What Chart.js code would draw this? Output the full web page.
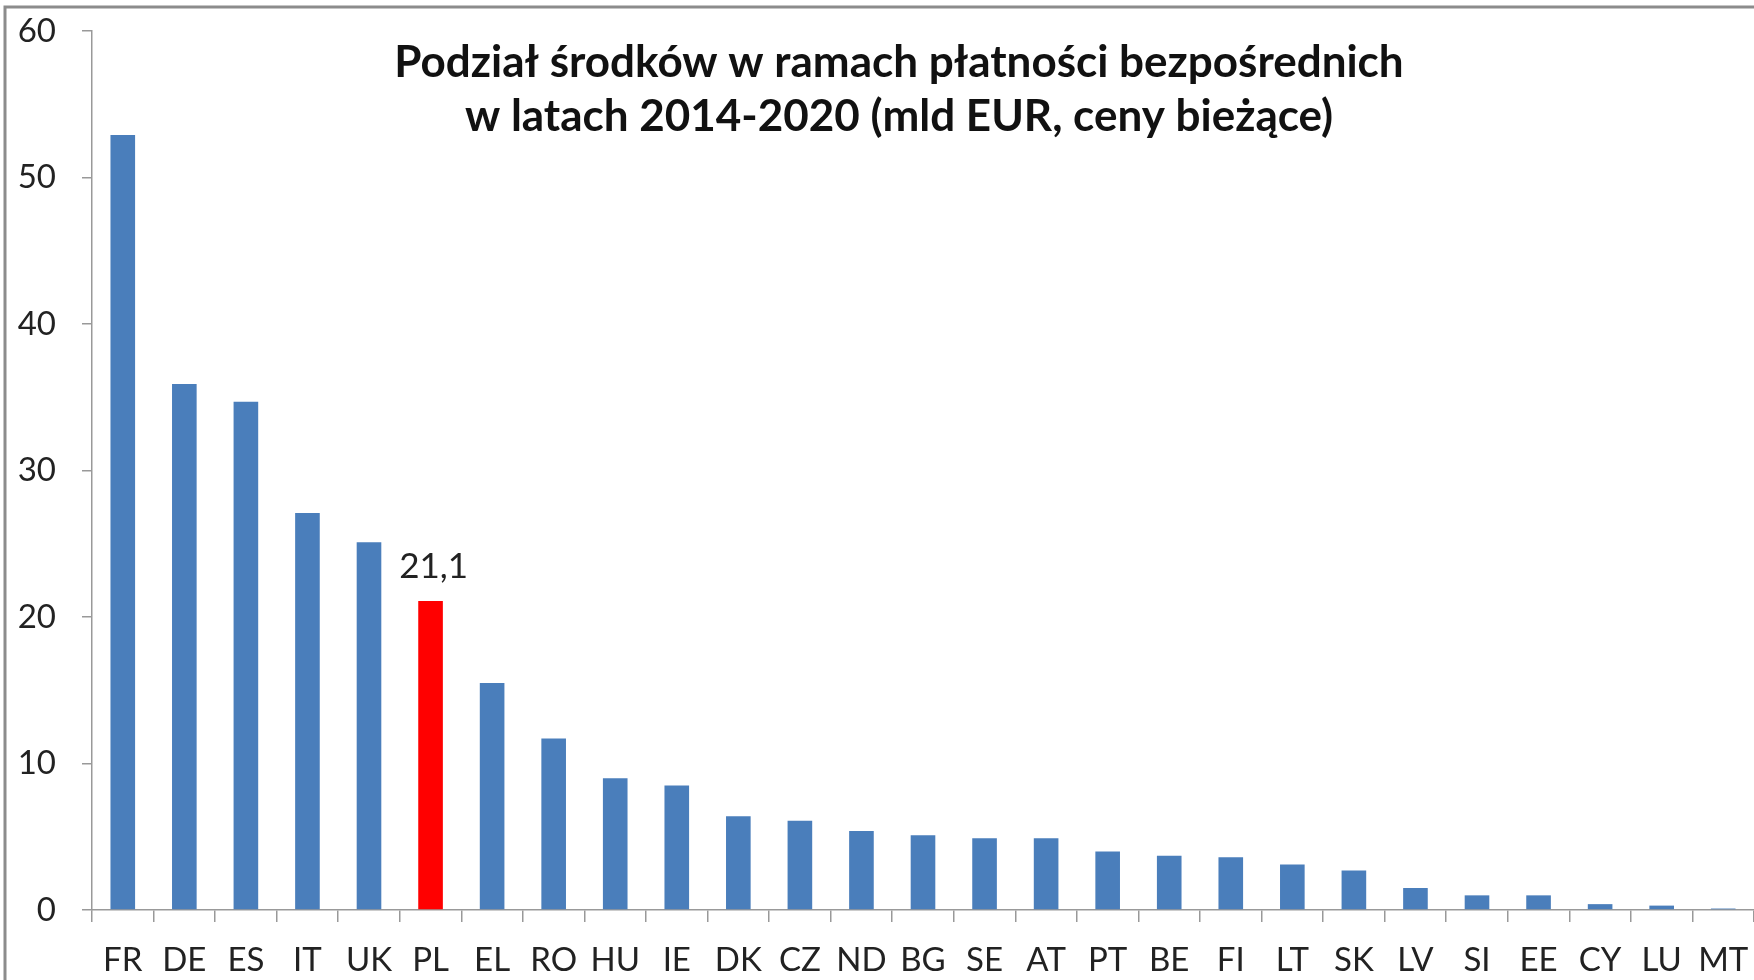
<!DOCTYPE html>
<html>
<head>
<meta charset="utf-8">
<script src="https://cdn.jsdelivr.net/npm/chart.js@4/dist/chart.umd.min.js"></script>
<style>
  html, body { margin: 0; padding: 0; background: #fff; }
  #wrap { position: relative; width: 1754px; height: 980px; }
</style>
</head>
<body>
<div id="wrap"><canvas id="c"></canvas></div>
<script>
// ---- data ----
const categories = ['FR','DE','ES','IT','UK','PL','EL','RO','HU','IE','DK','CZ','ND','BG','SE','AT','PT','BE','FI','LT','SK','LV','SI','EE','CY','LU','MT'];
const values = [52.9, 35.9, 34.7, 27.1, 25.1, 21.1, 15.5, 11.7, 9.0, 8.5, 6.4, 6.1, 5.4, 5.1, 4.9, 4.9, 4.0, 3.7, 3.6, 3.1, 2.7, 1.5, 1.0, 1.0, 0.4, 0.3, 0.1];
const highlightCategory = 'PL';
const highlightText = '21,1';
const titleLines = ['Podział środków w ramach płatności bezpośrednich', 'w latach 2014-2020 (mld EUR, ceny bieżące)'];
const yTicks = [0, 10, 20, 30, 40, 50, 60];

const BLUE = '#4a7ebb';
const RED = '#ff0000';
const FONT = 'Lato, "Open Sans", sans-serif';

const colors = categories.map(c => c === highlightCategory ? RED : BLUE);

const overlayPlugin = {
  id: 'overlay',
  beforeDraw(chart) {
    const ctx = chart.ctx;
    ctx.save();
    ctx.fillStyle = '#fff';
    ctx.fillRect(0, 0, chart.width, chart.height);
    // frame (top & left edges of the original chart box)
    ctx.strokeStyle = '#8c8c8c';
    ctx.lineWidth = 3;
    ctx.beginPath();
    ctx.moveTo(5, chart.height);
    ctx.lineTo(5, 7);
    ctx.lineTo(chart.width, 7);
    ctx.stroke();
    ctx.restore();
  },
  afterDraw(chart) {
    const ctx = chart.ctx;
    ctx.save();
    // title
    ctx.fillStyle = '#111';
    ctx.font = 'bold 44px ' + FONT;
    ctx.textAlign = 'center';
    ctx.textBaseline = 'alphabetic';
    ctx.fillText(titleLines[0], 899, 77);
    ctx.fillText(titleLines[1], 899, 131);
    // highlight label
    const idx = categories.indexOf(highlightCategory);
    const bar = chart.getDatasetMeta(0).data[idx];
    ctx.font = '35px ' + FONT;
    ctx.fillStyle = '#222';
    ctx.textBaseline = 'middle';
    ctx.fillText(highlightText, bar.x + 3, bar.y - 34);
    ctx.restore();
  }
};

new Chart(document.getElementById('c'), {
  type: 'bar',
  data: {
    labels: categories,
    datasets: [{
      data: values,
      backgroundColor: colors,
      borderWidth: 0,
      barPercentage: 0.8,
      categoryPercentage: 0.5
    }]
  },
  options: {
    responsive: true,
    maintainAspectRatio: false,
    animation: false,
    layout: { padding: { top: 31, left: 0, right: 0, bottom: 0 } },
    plugins: {
      legend: { display: false },
      title: { display: false },
      tooltip: { enabled: false }
    },
    scales: {
      x: {
        grid: { display: true, drawOnChartArea: false, offset: true, tickLength: 12, color: '#999', lineWidth: 1.5 },
        border: { display: true, color: '#999', width: 1.5 },
        ticks: { color: '#222', font: { family: FONT, size: 33 }, padding: 19, maxRotation: 0, autoSkip: false },
        afterFit(scale) { scale.height = 70; scale.paddingLeft = 0; scale.paddingRight = 0; }
      },
      y: {
        min: 0, max: 60,
        afterBuildTicks(scale) { scale.ticks = yTicks.map(v => ({ value: v })); },
        grid: { display: true, drawOnChartArea: false, tickLength: 10, color: '#999', lineWidth: 1.5 },
        border: { display: true, color: '#999', width: 1.5 },
        ticks: { color: '#222', font: { family: FONT, size: 33 }, padding: 26 },
        afterFit(scale) { scale.width = 92; scale.paddingTop = 0; scale.paddingBottom = 0; }
      }
    }
  },
  plugins: [overlayPlugin]
});
</script>
</body>
</html>
